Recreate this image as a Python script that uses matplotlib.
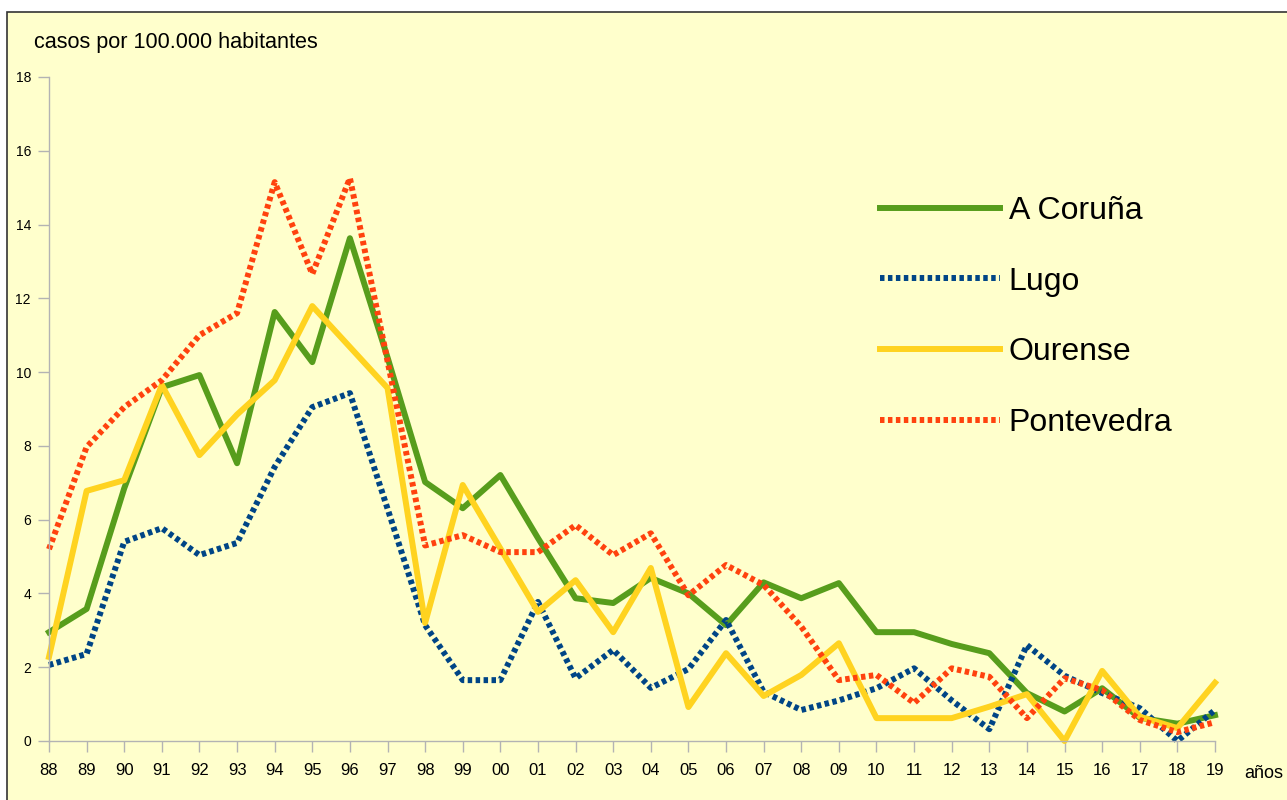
import matplotlib
matplotlib.use("Agg")
import matplotlib.pyplot as plt
from matplotlib.patches import Rectangle

# data
years = ["88", "89", "90", "91", "92", "93", "94", "95", "96", "97", "98", "99",
         "00", "01", "02", "03", "04", "05", "06", "07", "08", "09", "10", "11",
         "12", "13", "14", "15", "16", "17", "18", "19"]
coruna = [2.95, 3.58, 6.85, 9.59, 9.92, 7.53, 11.63, 10.27, 13.63, 10.4, 7.02, 6.31,
          7.21, 5.5, 3.87, 3.74, 4.42, 4.0, 3.14, 4.3, 3.87, 4.28, 2.95, 2.95,
          2.63, 2.38, 1.3, 0.8, 1.43, 0.63, 0.47, 0.7]
lugo = [2.06, 2.36, 5.4, 5.77, 5.04, 5.37, 7.43, 9.05, 9.43, 6.3, 3.14, 1.65,
        1.65, 3.77, 1.7, 2.47, 1.44, 1.95, 3.28, 1.33, 0.84, 1.1, 1.43, 1.97,
        1.1, 0.32, 2.6, 1.77, 1.3, 0.89, 0.0, 0.84]
ourense = [2.28, 6.78, 7.07, 9.65, 7.75, 8.85, 9.78, 11.79, 10.68, 9.57, 3.2, 6.94,
           5.22, 3.5, 4.36, 2.95, 4.69, 0.92, 2.38, 1.22, 1.79, 2.65, 0.62, 0.62,
           0.62, 0.93, 1.27, 0.0, 1.9, 0.66, 0.35, 1.58]
pontevedra = [5.2, 7.97, 9.05, 9.78, 11.0, 11.6, 15.15, 12.66, 15.26, 10.3, 5.3, 5.58,
              5.12, 5.12, 5.85, 5.04, 5.63, 3.95, 4.77, 4.23, 3.1, 1.65, 1.79, 1.03,
              1.97, 1.74, 0.62, 1.7, 1.38, 0.57, 0.24, 0.51]

plt.rcParams["font.family"] = ["Liberation Sans", "DejaVu Sans"]

W, H = 1287, 800
fig = plt.figure(figsize=(W / 100, H / 100), dpi=100, facecolor="white")

# yellow chart area with dark border on top/left
bg = Rectangle((7 / W, -0.1), 1.2, 0.1 + 788 / H, transform=fig.transFigure,
               facecolor="#FFFFCC", edgecolor="#333333", lw=1.2, zorder=-5)
fig.patches.append(bg)

ax = fig.add_axes([49 / W, 59 / H, 1166 / W, 664 / H])
ax.set_facecolor("none")

x = list(range(len(years)))
dots = (0, (0.75, 0.58))
lw = 4.3
ax.plot(x, coruna, color="#579D1C", lw=lw, label="A Coruña",
        solid_joinstyle="round", clip_on=False)
ax.plot(x, lugo, color="#004586", lw=lw, ls=dots, label="Lugo",
        dash_capstyle="butt", clip_on=False)
ax.plot(x, ourense, color="#FFD320", lw=lw, label="Ourense",
        solid_joinstyle="round", clip_on=False)
ax.plot(x, pontevedra, color="#FF420E", lw=lw, ls=dots, label="Pontevedra",
        dash_capstyle="butt", clip_on=False)

ax.set_xlim(0, len(years) - 1)
ax.set_ylim(0, 18)
ax.set_yticks(range(0, 19, 2))
ax.set_xticks(x, years)

for s in ["top", "right"]:
    ax.spines[s].set_visible(False)
for s in ["left", "bottom"]:
    ax.spines[s].set_color("#b3b3b3")
    ax.spines[s].set_linewidth(1)

ax.tick_params(axis="both", color="#b3b3b3", width=1, length=8, labelcolor="black")
ax.tick_params(axis="y", labelsize=10, pad=5)
ax.tick_params(axis="x", labelsize=12, pad=8)
for lbl in ax.get_xticklabels():
    lbl.set_family(["Liberation Sans Narrow", "Liberation Sans"])

fig.text(34 / W, 1 - 48 / H, "casos por 100.000 habitantes", fontsize=15.6, va="baseline")
fig.text(1283 / W, 1 - 778 / H, "años", fontsize=13, va="baseline", ha="right")

ax.legend(loc="upper left", bbox_to_anchor=(880 / W, 1 - 196 / H),
          bbox_transform=fig.transFigure, frameon=False, fontsize=23,
          handlelength=3.75, handletextpad=0.28, labelspacing=1.27,
          borderpad=0, borderaxespad=0)

fig.savefig("out.png", dpi=100, facecolor="white")
